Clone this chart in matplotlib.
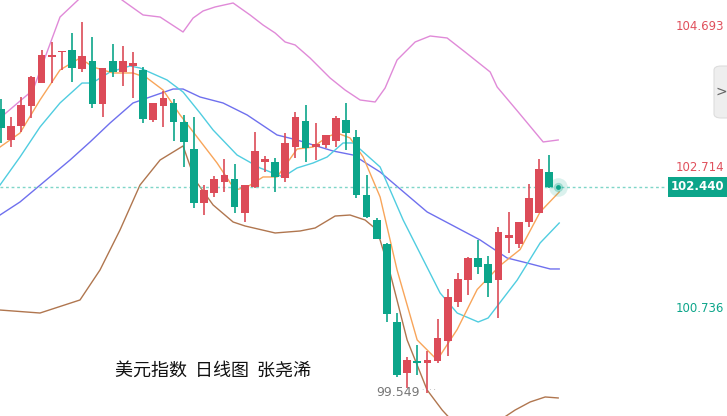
import numpy as np
import matplotlib.pyplot as plt
from matplotlib.patches import Rectangle, FancyBboxPatch

plt.rcParams['font.family'] = ['Noto Sans CJK SC', 'DejaVu Sans']

# ---- Kerzen (Open, High, Low, Close) ----
opens = [103.529, 103.094, 103.290, 103.571, 103.893, 104.258, 104.328, 104.356, 104.090, 104.202,
         103.599, 104.202, 104.048, 104.132, 104.076, 103.374, 103.571, 103.613, 103.346, 102.967,
         102.210, 102.350, 102.504, 102.547, 102.070, 102.434, 102.785, 102.785, 102.561, 102.995,
         103.360, 102.995, 103.024, 103.080, 103.374, 103.136, 102.322, 101.971, 101.635, 100.540,
         99.825, 99.993, 99.965, 99.993, 100.273, 100.821, 101.128, 101.438, 101.354, 101.128,
         101.719, 101.635, 101.943, 102.070, 102.645]
highs = [103.669, 103.416, 103.697, 103.992, 104.356, 104.469, 104.342, 104.595, 104.749, 104.539,
         104.104, 104.441, 104.413, 104.328, 104.118, 103.613, 103.781, 103.669, 103.445, 103.416,
         102.462, 102.589, 102.827, 102.757, 102.462, 103.206, 102.869, 102.841, 103.192, 103.487,
         103.585, 103.332, 103.164, 103.430, 103.613, 103.234, 102.603, 101.999, 101.649, 100.666,
         100.055, 100.218, 100.134, 100.582, 101.003, 101.226, 101.452, 101.691, 101.466, 101.873,
         102.084, 101.943, 102.476, 102.827, 102.883]
lows = [103.052, 102.995, 103.206, 103.402, 103.893, 103.893, 104.076, 103.908, 104.048, 103.543,
        103.416, 103.978, 103.851, 103.683, 103.332, 103.346, 103.276, 103.080, 102.715, 102.140,
        102.041, 102.294, 102.364, 102.070, 101.943, 102.420, 102.645, 102.364, 102.504, 102.841,
        102.785, 102.813, 102.981, 102.995, 102.953, 102.280, 101.999, 101.705, 100.540, 99.768,
        99.614, 99.798, 99.549, 99.965, 100.068, 100.751, 100.919, 101.212, 100.891, 100.596,
        101.508, 101.578, 101.873, 102.070, 102.420]
closes = [103.262, 103.290, 103.585, 103.978, 104.286, 104.286, 104.342, 104.104, 104.272, 103.599,
          104.104, 104.048, 104.202, 104.174, 103.388, 103.613, 103.683, 103.346, 103.066, 102.210,
          102.392, 102.547, 102.603, 102.154, 102.462, 102.939, 102.827, 102.575, 103.052, 103.416,
          102.981, 103.038, 103.164, 103.402, 103.192, 102.322, 102.013, 101.705, 100.652, 99.798,
          100.007, 99.965, 100.007, 100.316, 100.891, 101.142, 101.438, 101.312, 101.087, 101.803,
          101.761, 101.943, 102.280, 102.687, 102.440]

upper_x = [-0.1, 3.15, 5.81, 7.59, 9.75, 11.92, 13.99, 15.67, 17.93, 18.92, 19.90, 21.08, 22.86, 24.53,
           25.81, 27.0, 27.98, 28.97, 30.44, 32.41, 33.89, 35.37, 36.85, 37.83, 39.01, 40.79, 42.27,
           43.94, 45.71, 48.18, 48.87, 50.94, 53.40, 54.88]
upper_y = [103.402, 103.795, 104.819, 105.058, 105.34, 105.058, 104.848, 104.819, 104.609, 104.805,
           104.904, 104.960, 105.016, 104.848, 104.707, 104.595, 104.469, 104.427, 104.244, 103.964,
           103.795, 103.655, 103.627, 103.823, 104.216, 104.469, 104.553, 104.525, 104.328, 104.048,
           103.837, 103.487, 103.066, 103.094]
lower_x = [-0.1, 3.84, 7.78, 9.75, 11.72, 13.69, 15.67, 17.93, 19.11, 20.89, 22.86, 24.04, 27.0, 29.46,
           30.94, 32.91, 34.38, 35.86, 37.04, 38.33, 40.0, 41.97, 43.45, 46.2, 49.16, 50.64, 52.12,
           53.6, 54.88]
lower_y = [100.708, 100.666, 100.849, 101.270, 101.831, 102.462, 102.813, 103.010, 102.532, 102.182,
           101.943, 101.887, 101.789, 101.817, 101.859, 102.027, 102.041, 101.971, 101.831, 101.226,
           100.288, 99.586, 99.305, 98.88, 99.165, 99.305, 99.418, 99.488, 99.474]
mid_x = [-0.1, 1.87, 6.8, 8.77, 10.74, 13.0, 14.68, 16.95, 17.93, 19.6, 21.87, 24.24, 27.19, 29.16,
         30.74, 32.71, 34.68, 37.34, 41.97, 47.19, 49.85, 51.82, 54.09, 54.98]
mid_y = [102.041, 102.224, 102.813, 103.066, 103.332, 103.613, 103.697, 103.809, 103.809, 103.697,
         103.613, 103.445, 103.164, 103.094, 103.024, 102.939, 102.883, 102.645, 102.084, 101.691,
         101.438, 101.368, 101.284, 101.284]
ma10_x = [-0.1, 1.87, 3.84, 5.81, 7.98, 8.97, 10.74, 12.71, 13.69, 16.35, 17.93, 19.6, 20.89, 23.25,
          25.52, 27.78, 29.16, 30.74, 32.12, 33.69, 34.68, 37.34, 39.61, 43.25, 44.93, 47.0, 47.98,
          50.84, 53.1, 54.98]
ma10_y = [102.462, 102.855, 103.276, 103.613, 103.893, 103.893, 104.048, 104.132, 104.104, 103.936,
          103.767, 103.472, 103.234, 102.883, 102.701, 102.575, 102.701, 102.771, 102.855, 103.052,
          103.052, 102.715, 101.971, 100.947, 100.666, 100.540, 100.596, 101.128, 101.649, 101.929]
ma5_x = [-0.1, 1.87, 3.84, 5.81, 7.78, 9.06, 11.03, 13.0, 14.38, 15.96, 17.64, 19.31, 21.28, 23.05,
         24.24, 25.81, 27.19, 28.18, 29.16, 30.74, 32.12, 33.1, 34.38, 35.67, 37.34, 39.01, 40.99,
         42.96, 44.93, 46.9, 49.16, 51.13, 53.1, 54.98]
ma5_y = [102.995, 103.192, 103.655, 104.076, 104.244, 104.118, 104.034, 104.034, 103.964, 103.795,
         103.445, 103.136, 102.771, 102.392, 102.434, 102.575, 102.575, 102.771, 102.967, 102.995,
         103.136, 103.192, 103.122, 102.855, 102.294, 101.270, 100.288, 100.007, 100.435, 100.996,
         101.333, 101.557, 102.084, 102.364]

axis_labels = [104.693, 102.714, 100.736]
last_price = 102.440
low_label = 99.549

UP = '#dc4b58'
DOWN = '#0ca58a'

fig = plt.figure(figsize=(7.27, 4.16), dpi=100)
ax = fig.add_axes([0, 0, 665 / 727, 1])
ymin, ymax = 99.221, 105.058
ax.set_xlim(-0.1, 65.4)
ax.set_ylim(ymin, ymax)
ax.axis('off')

# Linien
ax.plot(upper_x, upper_y, color='#e08ad8', lw=1)
ax.plot(lower_x, lower_y, color='#b0764f', lw=1)
ax.plot(mid_x, mid_y, color='#6f70ee', lw=1)
ax.plot(ma10_x, ma10_y, color='#50cde0', lw=1)
ax.plot(ma5_x, ma5_y, color='#f8a55a', lw=1)

# Kerzen
for i, (o, h, l, c) in enumerate(zip(opens, highs, lows, closes)):
    col = UP if c >= o else DOWN
    ax.vlines(i, l, h, color=col, lw=1.2, zorder=3)
    bot, top = min(o, c), max(o, c)
    ax.add_patch(Rectangle((i - 0.38, bot), 0.76, max(top - bot, 0.02),
                           color=col, zorder=4, lw=0))

# letzter Kurs
n = len(closes) - 1
ax.axhline(last_price, color='#7fd6c8', lw=1, ls=(0, (2, 2)), zorder=2)
ax.scatter([n + 0.9], [last_price], s=180, color=DOWN, alpha=0.15, zorder=5, lw=0)
ax.scatter([n + 0.9], [last_price], s=45, color=DOWN, alpha=0.3, zorder=5, lw=0)
ax.scatter([n + 0.9], [last_price], s=12, color=DOWN, zorder=6, lw=0)

# Tief-Markierung
ax.text(41.2, low_label, f'{low_label:.3f}', ha='right', va='center',
        fontsize=9, color='#777777', family='DejaVu Sans')
ax.text(41.3, low_label + 0.03, '‥‥', ha='left', va='center', fontsize=6, color='#999999')

ax.text(11.2, 99.86, '美元指数  日线图  张尧浠', fontsize=13, color='#111111', va='center')

# rechte Achse als Text
def ypos(v):
    return (v - ymin) / (ymax - ymin)

fig.text(700 / 727, ypos(axis_labels[0]), f'{axis_labels[0]:.3f}', color='#e0505c',
         ha='center', va='center', fontsize=8.5, family='DejaVu Sans')
fig.text(700 / 727, ypos(axis_labels[1]), f'{axis_labels[1]:.3f}', color='#e0505c',
         ha='center', va='center', fontsize=8.5, family='DejaVu Sans')
fig.text(700 / 727, ypos(axis_labels[2]), f'{axis_labels[2]:.3f}', color=DOWN,
         ha='center', va='center', fontsize=8.5, family='DejaVu Sans')
fig.text(698 / 727, ypos(last_price), f'{last_price:.3f}', color='white', ha='center',
         va='center', fontsize=8.5, fontweight='bold', family='DejaVu Sans',
         bbox=dict(boxstyle='square,pad=0.3', fc=DOWN, ec='none'))

# Seitenlasche
tab = FancyBboxPatch((714 / 727, 1 - 118 / 416), 20 / 727, 52 / 416,
                     boxstyle='round,pad=0,rounding_size=0.01', transform=fig.transFigure,
                     fc='#eeeeee', ec='#dddddd', lw=0.8)
fig.patches.append(tab)
fig.text(721 / 727, 1 - 92 / 416, '>', color='#666666', fontsize=10, ha='center', va='center',
         family='DejaVu Sans')

fig.savefig('out.png', dpi=100)
